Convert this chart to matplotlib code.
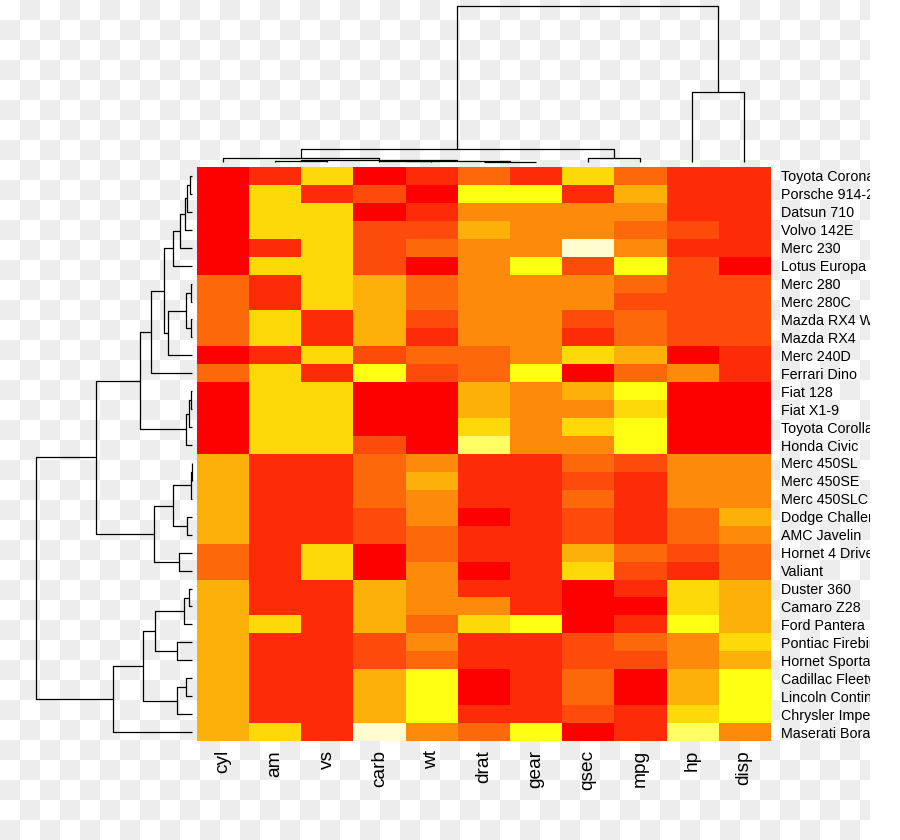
import numpy as np
import matplotlib
matplotlib.use('Agg')
import matplotlib.pyplot as plt
from matplotlib.colors import ListedColormap, BoundaryNorm
from matplotlib.patches import Rectangle

plt.rcParams['font.family'] = ['Liberation Sans', 'DejaVu Sans']

# rows, top to bottom
cars = ['Toyota Corona', 'Porsche 914-2', 'Datsun 710', 'Volvo 142E', 'Merc 230',
        'Lotus Europa', 'Merc 280', 'Merc 280C', 'Mazda RX4 Wag', 'Mazda RX4',
        'Merc 240D', 'Ferrari Dino', 'Fiat 128', 'Fiat X1-9', 'Toyota Corolla',
        'Honda Civic', 'Merc 450SL', 'Merc 450SE', 'Merc 450SLC', 'Dodge Challenger',
        'AMC Javelin', 'Hornet 4 Drive', 'Valiant', 'Duster 360', 'Camaro Z28',
        'Ford Pantera L', 'Pontiac Firebird', 'Hornet Sportabout', 'Cadillac Fleetwood',
        'Lincoln Continental', 'Chrysler Imperial', 'Maserati Bora']

# columns, left to right
variables = ['cyl', 'am', 'vs', 'carb', 'wt', 'drat', 'gear', 'qsec', 'mpg', 'hp', 'disp']

# heat palette, red (low) -> pale yellow (high)
palette = ['#FD0000', '#FD2B08', '#FC4B0A', '#FD690A', '#FD8A0A',
           '#FDB00A', '#FDD90A', '#FFFF14', '#FFFF64', '#FFFDD0']

# colour level of each cell (column-scaled value binned)
levels = [
    [0, 1, 6, 0, 1, 3, 1, 6, 3, 1, 1],
    [0, 6, 1, 2, 0, 7, 7, 1, 5, 1, 1],
    [0, 6, 6, 0, 1, 4, 4, 4, 4, 1, 1],
    [0, 6, 6, 2, 2, 5, 4, 4, 3, 2, 1],
    [0, 1, 6, 2, 3, 4, 4, 9, 4, 1, 1],
    [0, 6, 6, 2, 0, 4, 7, 2, 7, 2, 0],
    [3, 1, 6, 5, 3, 4, 4, 4, 3, 2, 2],
    [3, 1, 6, 5, 3, 4, 4, 4, 2, 2, 2],
    [3, 6, 1, 5, 2, 4, 4, 2, 3, 2, 2],
    [3, 6, 1, 5, 1, 4, 4, 1, 3, 2, 2],
    [0, 1, 6, 2, 3, 3, 4, 6, 5, 0, 1],
    [3, 6, 1, 7, 2, 3, 7, 0, 3, 4, 1],
    [0, 6, 6, 0, 0, 5, 4, 5, 7, 0, 0],
    [0, 6, 6, 0, 0, 5, 4, 4, 6, 0, 0],
    [0, 6, 6, 0, 0, 6, 4, 6, 7, 0, 0],
    [0, 6, 6, 2, 0, 8, 4, 4, 7, 0, 0],
    [5, 1, 1, 3, 4, 1, 1, 3, 2, 4, 4],
    [5, 1, 1, 3, 5, 1, 1, 2, 1, 4, 4],
    [5, 1, 1, 3, 4, 1, 1, 3, 1, 4, 4],
    [5, 1, 1, 2, 4, 0, 1, 2, 1, 3, 5],
    [5, 1, 1, 2, 3, 1, 1, 2, 1, 3, 4],
    [3, 1, 6, 0, 3, 1, 1, 5, 3, 2, 3],
    [3, 1, 6, 0, 4, 0, 1, 6, 2, 1, 3],
    [5, 1, 1, 5, 4, 1, 1, 0, 1, 6, 5],
    [5, 1, 1, 5, 4, 4, 1, 0, 0, 6, 5],
    [5, 6, 1, 5, 3, 6, 7, 0, 1, 7, 5],
    [5, 1, 1, 2, 4, 1, 1, 2, 3, 4, 6],
    [5, 1, 1, 2, 3, 1, 1, 2, 2, 4, 5],
    [5, 1, 1, 5, 7, 0, 1, 3, 0, 5, 7],
    [5, 1, 1, 5, 7, 0, 1, 3, 0, 5, 7],
    [5, 1, 1, 5, 7, 1, 1, 2, 1, 6, 7],
    [5, 6, 1, 9, 4, 3, 7, 0, 1, 8, 4],
]

# hclust-style merges: negative = leaf (1-based, display order), positive = earlier merge
row_merges = [
    (-1, -2, 2.5), (1, -3, 5), (2, -4, 7), (3, -5, 12), (4, -6, 19),
    (-7, -8, 1.2), (-9, -10, 1.0), (6, 7, 6), (8, -11, 24), (5, 9, 28),
    (10, -12, 41), (-13, -14, 1.5), (12, -15, 3.5), (13, -16, 6), (11, 14, 52),
    (-17, -18, 0.5), (16, -19, 1.0), (-20, -21, 5.3), (17, 18, 19.3),
    (-22, -23, 12.7), (19, 20, 38), (15, 21, 96),
    (-24, -25, 3), (23, -26, 8), (-27, -28, 15.3), (24, 25, 37.3),
    (-29, -30, 6.3), (27, -31, 15.3), (26, 28, 49.3), (29, -32, 79),
    (22, 30, 156),
]

col_merges = [
    (-6, -7, 3), (-2, -3, 6), (-4, -5, 8), (3, 1, 11), (2, 4, 20),
    (-8, -9, 38), (-1, 5, 42), (7, 6, 124), (-10, -11, 660), (8, 9, 1476),
]


def draw_dendrogram(ax, merges, side):
    pos, hgt = {}, {}
    for k, (a, b, h) in enumerate(merges, start=1):
        ends = []
        for c in (a, b):
            if c < 0:
                ends.append((-c - 1, 0.0))
            else:
                ends.append((pos[c], hgt[c]))
        (p1, h1), (p2, h2) = ends
        xs = [p1, p1, p2, p2]
        ys = [h1, h, h, h2]
        if side == 'top':
            ax.plot(xs, ys, color='black', lw=0.9, clip_on=False, solid_capstyle='butt')
        else:
            ax.plot(ys, xs, color='black', lw=0.9, clip_on=False, solid_capstyle='butt')
        pos[k] = (p1 + p2) / 2
        hgt[k] = h


W, H = 900, 840
fig = plt.figure(figsize=(W / 100, H / 100), dpi=100)
fig.patch.set_facecolor('white')

# transparency checkerboard behind the plot
yy, xx = np.mgrid[0:H, 0:870]
board = np.where(((xx // 20) + (yy // 20)) % 2 == 1, 0.933, 1.0)
fig.figimage(np.dstack([board] * 3), xo=0, yo=0, origin='upper', zorder=-1)

# heatmap
ax = fig.add_axes([197 / W, 1 - 741 / H, 573 / W, 574 / H])
ax.patch.set_visible(False)
cmap = ListedColormap(palette)
norm = BoundaryNorm(np.arange(-0.5, len(palette)), len(palette))
ax.imshow(np.array(levels), cmap=cmap, norm=norm, aspect='auto', interpolation='nearest')
for s in ax.spines.values():
    s.set_visible(False)
ax.set_xticks(range(len(variables)))
ax.set_xticklabels(variables, rotation=90, fontsize=13.8)
ax.set_yticks(range(len(cars)))
ax.set_yticklabels(cars, fontsize=10.3)
ax.yaxis.tick_right()
ax.tick_params(axis='x', length=0, pad=6.5)
ax.tick_params(axis='y', length=0, pad=8)

# column dendrogram
axt = fig.add_axes([197 / W, 1 - 162 / H, 573 / W, 156 / H])
axt.axis('off')
draw_dendrogram(axt, col_merges, 'top')
axt.set_xlim(-0.5, len(variables) - 0.5)
axt.set_ylim(0, col_merges[-1][2])

# row dendrogram
axl = fig.add_axes([36 / W, 1 - 741 / H, 156 / W, 574 / H])
axl.axis('off')
draw_dendrogram(axl, row_merges, 'left')
axl.set_xlim(row_merges[-1][2], 0)
axl.set_ylim(len(cars) - 0.5, -0.5)

# labels run off the right edge of the original
fig.add_artist(Rectangle((870 / W, 0), 30 / W, 1, transform=fig.transFigure,
                         facecolor='white', edgecolor='none', zorder=10))

fig.savefig('out.png', dpi=100)
